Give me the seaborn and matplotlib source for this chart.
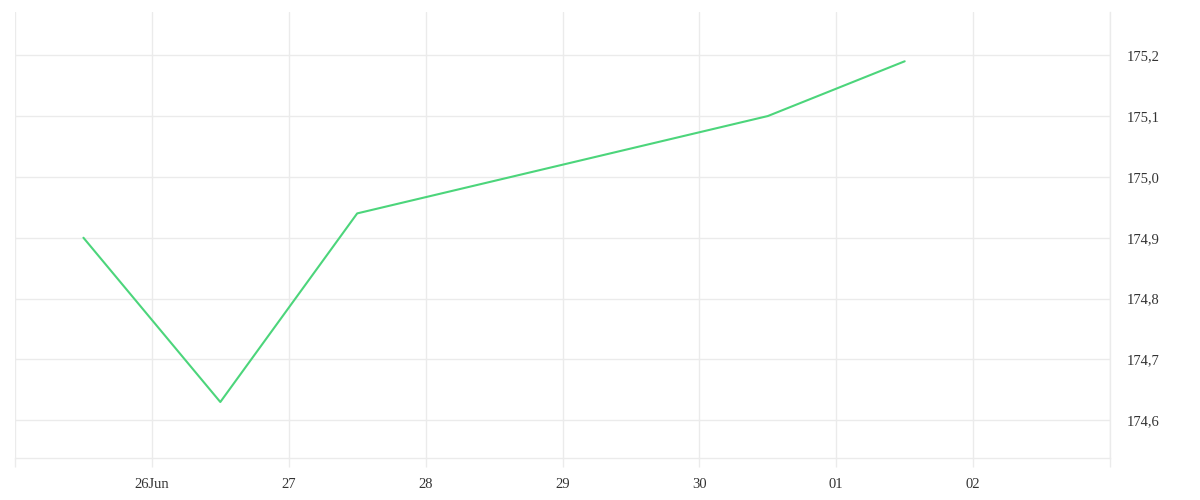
import matplotlib
matplotlib.use("Agg")
import matplotlib.pyplot as plt
import matplotlib.dates as mdates
import seaborn as sns
import pandas as pd
import numpy as np
from matplotlib.ticker import FuncFormatter, FixedLocator

dates = ["2023-06-25 12:00", "2023-06-26 12:00", "2023-06-27 12:00",
         "2023-06-30 12:00", "2023-07-01 12:00"]
values = [174.90, 174.63, 174.94, 175.10, 175.19]
tick_days = ["2023-06-25", "2023-06-26", "2023-06-27", "2023-06-28", "2023-06-29",
             "2023-06-30", "2023-07-01", "2023-07-02", "2023-07-03"]
tick_labels = ["", "26Jun", "27", "28", "29", "30", "01", "02", ""]
y_ticks = [174.6, 174.7, 174.8, 174.9, 175.0, 175.1, 175.2]

df = pd.DataFrame({"date": pd.to_datetime(dates), "value": values})

sns.set_style("white")
plt.rcParams['font.family'] = ['Liberation Serif', 'DejaVu Serif']

fig = plt.figure(figsize=(12, 5), dpi=100)
ax = fig.add_axes([15/1200, 42/500, 1095/1200, 446/500])

grid_c = "#ebebeb"
sns.lineplot(data=df, x="date", y="value", ax=ax, color="#4cd57b", linewidth=1.5)

tdates = pd.to_datetime(tick_days)
ax.set_xlim(mdates.date2num(tdates[0]), mdates.date2num(tdates[-1]))
ax.set_ylim(174.538, 175.271)
ax.xaxis.set_major_locator(FixedLocator(mdates.date2num(tdates)))
ax.set_xticklabels(tick_labels)
ax.set_yticks(y_ticks)
ax.yaxis.set_major_formatter(FuncFormatter(lambda v, p: f"{v:.1f}".replace(".", ",")))
ax.yaxis.tick_right()

ax.grid(True, color=grid_c, linewidth=1)
ax.set_axisbelow(True)
for s in ["top", "left"]:
    ax.spines[s].set_visible(False)
ax.spines["right"].set_color(grid_c)
ax.spines["right"].set_linewidth(1)
ax.spines["bottom"].set_color(grid_c)
ax.spines["bottom"].set_linewidth(1)

ax.tick_params(axis="x", bottom=True, length=6.5, width=1, color=grid_c, labelsize=10.5,
               labelcolor="#333333", pad=8, direction="out")
ax.tick_params(axis="y", right=True, length=0, labelsize=10.5, labelcolor="#333333", pad=12)
ax.set_xlabel("")
ax.set_ylabel("")

fig.savefig("out.png", dpi=100)
